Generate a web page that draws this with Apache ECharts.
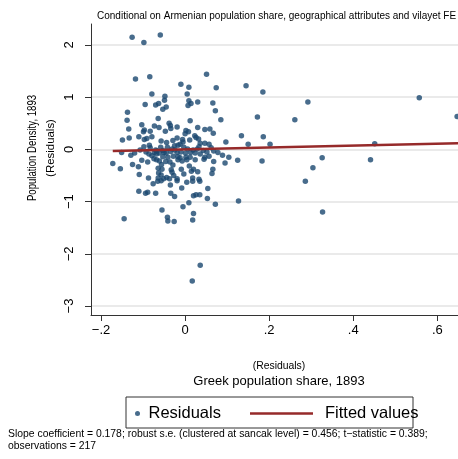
<!DOCTYPE html>
<html lang="en">
  <head>
    <meta charset="utf-8" />
    <title>Population density vs Greek population share</title>
    <script src="https://cdn.jsdelivr.net/npm/echarts@6/dist/echarts.min.js"></script>
    <style>
      html, body { margin: 0; padding: 0; background: #fff; }
      #chart { width: 458px; height: 459px; }
    </style>
  </head>
  <body>
    <div id="chart"></div>
    <script>
      // residuals: x = Greek population share, y = population density
      var greekShare = [
        -0.126, -0.098, -0.059, -0.118, -0.084, 0.051, -0.010, 0.009, 0.074, 0.145,
        0.185, 0.292, 0.557, -0.079, -0.048, 0.005, -0.049, 0.009, 0.030, 0.066,
        -0.095, -0.070, -0.063, 0.014, 0.007, -0.045, -0.053, 0.072, -0.137, 0.172,
        -0.138, -0.064, 0.012, 0.085, 0.261, 0.647, -0.038, -0.035, -0.103, -0.073,
        -0.062, -0.034, -0.019, 0.030, 0.047, 0.059, -0.134, -0.097, -0.099, -0.083,
        -0.047, 0.002, 0.008, 0.000, 0.067, 0.134, 0.186, -0.149, -0.133, -0.110,
        -0.097, -0.091, -0.079, -0.006, 0.023, 0.026, 0.032, 0.097, 0.150, 0.202,
        -0.044, -0.029, -0.019, -0.012, 0.011, 0.036, 0.047, 0.057, -0.085, -0.025,
        -0.017, -0.042, -0.058, -0.098, -0.070, -0.053, -0.031, -0.003, 0.006, 0.029,
        0.043, 0.068, 0.078, -0.151, -0.120, -0.093, -0.086, -0.073, -0.068, -0.061,
        -0.050, -0.034, -0.019, 0.001, 0.013, 0.024, 0.036, 0.089, -0.079, -0.053,
        -0.041, -0.028, -0.017, 0.002, 0.012, 0.047, 0.057, -0.074, -0.068, -0.061,
        -0.103, -0.089, -0.046, -0.017, -0.007, 0.004, 0.045, 0.068, 0.125, 0.183,
        0.095, -0.172, -0.125, -0.111, -0.056, -0.029, 0.010, -0.154, -0.064, -0.055,
        -0.009, 0.015, 0.066, 0.030, 0.064, -0.109, -0.063, -0.027, -0.057, -0.003,
        -0.087, -0.064, -0.051, -0.037, -0.019, 0.018, 0.033, -0.033, -0.031, 0.020,
        -0.044, -0.076, -0.065, -0.057, -0.035, -0.019, 0.004, 0.018, 0.035, -0.008,
        -0.110, -0.094, -0.089, -0.070, -0.034, -0.025, 0.020, 0.026, 0.035, 0.054,
        0.053, 0.009, 0.072, 0.127, -0.005, -0.055, 0.020, -0.042, -0.145, 0.018,
        -0.041, -0.026, 0.036, 0.017, 0.451, 0.326, 0.304, 0.441, 0.286, 0.327,
        -0.083, -0.067, -0.045, -0.024, -0.010, 0.019, 0.033, 0.052, 0.062, -0.107,
        -0.129, -0.012, 0.024, -0.036, -0.005, -0.057, 0.104
      ]
      var popDensity = [
        2.15, 2.05, 2.19, 1.35, 1.39, 1.44, 1.25, 1.19, 1.18, 1.22,
        1.10, 0.91, 0.99, 1.06, 1.02, 1.06, 0.94, 0.93, 0.91, 0.89,
        0.86, 0.85, 0.88, 0.88, 0.84, 0.81, 0.77, 0.74, 0.71, 0.62,
        0.56, 0.59, 0.55, 0.57, 0.57, 0.63, 0.50, 0.46, 0.47, 0.45,
        0.42, 0.40, 0.43, 0.42, 0.38, 0.39, 0.39, 0.37, 0.34, 0.35,
        0.35, 0.36, 0.34, 0.30, 0.31, 0.26, 0.24, 0.18, 0.22, 0.24,
        0.19, 0.21, 0.24, 0.19, 0.26, 0.23, 0.20, 0.14, 0.10, 0.10,
        0.13, 0.17, 0.22, 0.10, 0.18, 0.12, 0.12, 0.10, 0.08, 0.07,
        0.08, 0.04, 0.04, 0.05, -0.01, -0.02, 0.01, 0.04, 0.01, 0.01,
        -0.02, -0.03, -0.06, -0.06, -0.07, -0.05, -0.09, -0.06, -0.09, -0.07,
        -0.06, -0.04, -0.06, -0.07, -0.06, -0.07, -0.09, -0.11, -0.12, -0.14,
        -0.15, -0.13, -0.14, -0.15, -0.15, -0.15, -0.13, -0.18, -0.20, -0.22,
        -0.21, -0.24, -0.23, -0.20, -0.22, -0.20, -0.19, -0.23, -0.21, -0.22,
        -0.26, -0.27, -0.29, -0.33, -0.29, -0.30, -0.32, -0.37, -0.36, -0.38,
        -0.38, -0.42, -0.38, -0.43, -0.46, -0.48, -0.45, -0.50, -0.49, -0.47,
        -0.55, -0.55, -0.56, -0.56, -0.56, -0.55, -0.57, -0.39, -0.44, -0.38,
        -0.54, -0.66, -0.61, -0.60, -0.68, -0.60, -0.63, -0.61, -0.61, -0.74,
        -0.80, -0.84, -0.82, -0.84, -0.84, -0.90, -0.89, -0.87, -0.87, -0.75,
        -0.94, -1.02, -1.05, -0.99, -1.10, -1.16, -1.23, -1.30, -1.33, -1.35,
        -1.37, -1.38, -2.22, -2.52, 0.11, -0.16, -0.35, -0.20, -0.61, -1.20,
        0.03, -0.03, -0.07, -0.01, -0.05, -0.01, 0.05, -0.05, 0.03, -0.01,
        -0.11, -0.16, -0.20, -0.24, 0.14, 0.16, -0.15
      ]
      // fitted line end points
      var fittedX = [-0.172, 0.66]
      var fittedY = [-0.031, 0.118]

      var xTicks = [-0.2, 0, 0.2, 0.4, 0.6]
      var yTicks = [-3, -2, -1, 0, 1, 2]

      var font = "'Liberation Sans', Arial, Helvetica, sans-serif"

      // Stata style labels: minus sign, no leading zero
      function statLabel(v) {
        if (v === 0) return '0'
        var s = String(Math.abs(v)).replace(/^0\./, '.')
        return (v < 0 ? '\u2212' : '') + s
      }

      var residuals = greekShare.map(function (x, i) { return [x, popDensity[i]] })
      var fitted = fittedX.map(function (x, i) { return [x, fittedY[i]] })

      var chart = echarts.init(document.getElementById('chart'), null, { renderer: 'canvas' })
      chart.setOption({
        backgroundColor: '#fff',
        animation: false,
        textStyle: { fontFamily: font },
        title: {
          text: 'Conditional on Armenian population share, geographical attributes and vilayet FE',
          left: 97,
          top: 11,
          padding: 0,
          textStyle: { fontSize: 10, fontWeight: 'normal', color: '#000', fontFamily: font }
        },
        grid: { left: 91, right: 0, top: 24, bottom: 144 },
        xAxis: {
          type: 'value',
          min: -0.2238,
          max: 0.6491,
          axisLine: { show: true, onZero: false, lineStyle: { color: '#333', width: 1 } },
          axisTick: { show: true, customValues: xTicks, length: 6, lineStyle: { color: '#333' } },
          axisLabel: {
            customValues: xTicks,
            formatter: statLabel,
            fontSize: 13,
            color: '#000',
            margin: 9,
            fontFamily: font
          },
          splitLine: { show: false }
        },
        yAxis: {
          type: 'value',
          min: -3.172,
          max: 2.402,
          axisLine: { show: true, onZero: false, lineStyle: { color: '#333', width: 1 } },
          axisTick: { show: true, customValues: yTicks, length: 6, lineStyle: { color: '#333' } },
          axisLabel: {
            customValues: yTicks,
            formatter: statLabel,
            rotate: 90,
            fontSize: 13,
            color: '#000',
            margin: 15,
            fontFamily: font
          },
          splitLine: { show: true, lineStyle: { color: '#e3e3e3', width: 1.5 } }
        },
        legend: [
          {
            data: [{ name: 'Residuals', icon: 'circle' }],
            left: 135,
            top: 405,
            padding: 0,
            itemWidth: 12,
            itemHeight: 5,
            textStyle: { fontSize: 16.5, color: '#000', fontFamily: font }
          },
          {
            data: [{ name: 'Fitted values', icon: 'rect' }],
            left: 250,
            top: 405,
            padding: 0,
            itemWidth: 63,
            itemHeight: 2.5,
            textStyle: { fontSize: 16.5, color: '#000', fontFamily: font, padding: [0, 0, 0, 7] }
          }
        ],
        graphic: [
          {
            type: 'rect',
            shape: { x: 126, y: 397, width: 287, height: 31 },
            style: { fill: 'none', stroke: '#333', lineWidth: 1 }
          },
          {
            type: 'text', x: 32, y: 148, rotation: Math.PI / 2, scaleX: 0.74,
            style: { text: 'Population Density, 1893', font: '13px ' + font, fill: '#000', align: 'center', verticalAlign: 'middle' }
          },
          {
            type: 'text', x: 51, y: 148, rotation: Math.PI / 2, scaleX: 1.1,
            style: { text: '(Residuals)', font: '10.4px ' + font, fill: '#000', align: 'center', verticalAlign: 'middle' }
          },
          {
            type: 'text', x: 279, y: 366,
            style: { text: '(Residuals)', font: '10.4px ' + font, fill: '#000', align: 'center', verticalAlign: 'middle' }
          },
          {
            type: 'text', x: 279, y: 381,
            style: { text: 'Greek population share, 1893', font: '13px ' + font, fill: '#000', align: 'center', verticalAlign: 'middle' }
          },
          {
            type: 'text', x: 8, y: 434,
            style: { text: 'Slope coefficient = 0.178; robust s.e. (clustered at sancak level) = 0.456; t\u2212statistic = 0.389;', font: '10.4px ' + font, fill: '#000', align: 'left', verticalAlign: 'middle' }
          },
          {
            type: 'text', x: 8, y: 446,
            style: { text: 'observations = 217', font: '10.4px ' + font, fill: '#000', align: 'left', verticalAlign: 'middle' }
          }
        ],
        series: [
          {
            name: 'Residuals',
            type: 'scatter',
            data: residuals,
            symbol: 'circle',
            symbolSize: 5.5,
            itemStyle: { color: '#1a476f' },
            z: 2
          },
          {
            name: 'Fitted values',
            type: 'line',
            data: fitted,
            symbol: 'none',
            showSymbol: false,
            lineStyle: { color: '#962a2a', width: 2.5 },
            itemStyle: { color: '#962a2a' },
            z: 3
          }
        ]
      })
    </script>
  </body>
</html>
